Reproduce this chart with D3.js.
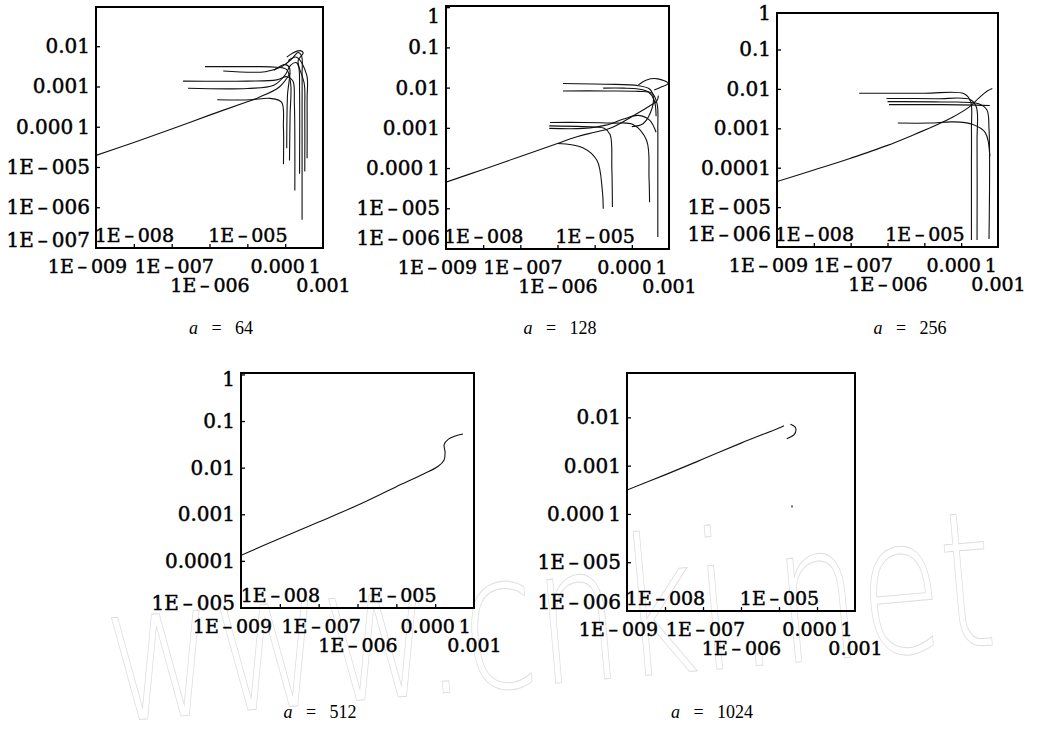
<!DOCTYPE html>
<html>
<head>
<meta charset="utf-8">
<script src="https://cdn.jsdelivr.net/npm/d3@7"></script>
<style>
body { margin: 0; background: #fff; }
svg text { font-family: "DejaVu Serif", "Liberation Serif", serif; }
</style>
</head>
<body>
<script>
// ---- tick values / labels ----
var xTicks = [1e-9, 1e-8, 1e-7, 1e-6, 1e-5, 1e-4, 1e-3];
var xTickText = ["1E\u2009–\u2009009", "1E\u2009–\u2009008", "1E\u2009–\u2009007", "1E\u2009–\u2009006", "1E\u2009–\u2009005", "0.000\u20091", "0.001"];
var xTickRow = [1, 0, 1, 2, 0, 1, 2];   // 0 = inside the frame, 1 = first line below, 2 = second line

var yTicks64 = [1e-2, 1e-3, 1e-4, 1e-5, 1e-6, 1e-7];
var yText64 = ["0.01", "0.001", "0.000\u20091", "1E\u2009–\u2009005", "1E\u2009–\u2009006", "1E\u2009–\u2009007"];
var yTicks128 = [1, 1e-1, 1e-2, 1e-3, 1e-4, 1e-5, 1e-6];
var yText128 = ["1", "0.1", "0.01", "0.001", "0.000\u20091", "1E\u2009–\u2009005", "1E\u2009–\u2009006"];
var yTicks256 = [1, 1e-1, 1e-2, 1e-3, 1e-4, 1e-5, 1e-6];
var yText256 = ["1", "0.1", "0.01", "0.001", "0.0001", "1E\u2009–\u2009005", "1E\u2009–\u2009006"];
var yTicks512 = [1, 1e-1, 1e-2, 1e-3, 1e-4, 1e-5];
var yText512 = ["1", "0.1", "0.01", "0.001", "0.0001", "1E\u2009–\u2009005"];
var yTicks1024 = [1e-2, 1e-3, 1e-4, 1e-5, 1e-6];
var yText1024 = ["0.01", "0.001", "0.000\u20091", "1E\u2009–\u2009005", "1E\u2009–\u2009006"];

// ---- curves, [x, y] ----
// a = 64
var a64_s0 = [[1e-9,2.0e-5],[1e-8,4.2e-5],[1e-7,9.0e-5],[1e-6,2.0e-4],[1e-5,4.3e-4],[2e-5,5.5e-4],[7e-5,1e-3],[1.35e-4,2.2e-3]];
var a64_s1 = [[7.6e-7,3.2e-3],[1e-5,3.2e-3],[6e-5,3.1e-3],[1.1e-4,2.7e-3],[1.4e-4,1.2e-3],[1.35e-4,2e-4],[1.3e-4,1.5e-5]];
var a64_s2 = [[2.3e-6,2.5e-3],[3e-5,2.4e-3],[8e-5,3.2e-3],[1.5e-4,5e-3],[2.2e-4,7.2e-3],[2.7e-4,6e-3],[2.8e-4,2e-3],[2.8e-4,3e-4],[2.8e-4,5e-7]];
var a64_s3 = [[2e-7,1.4e-3],[1e-5,1.4e-3],[6e-5,1.5e-3],[1.1e-4,1.8e-3],[1.6e-4,1.4e-3],[1.75e-4,4e-4],[1.8e-4,2.7e-6]];
var a64_s4 = [[2.7e-7,9.3e-4],[1e-5,9.2e-4],[5e-5,1.1e-3],[1e-4,2e-3],[1.4e-4,3.5e-3],[2e-4,4e-3],[2.3e-4,3e-3],[2.4e-4,8e-4],[2.4e-4,7e-6]];
var a64_s5 = [[1.6e-6,4.8e-4],[1.2e-5,4.8e-4],[4e-5,5.2e-4],[8e-5,4.2e-4],[9e-5,1e-4],[9e-5,1.2e-5]];
var a64_s6 = [[1.1e-4,5.5e-3],[1.6e-4,7e-3],[2.5e-4,8e-3],[3e-4,7e-3],[2.2e-4,4.5e-3],[3.2e-4,1.2e-3],[3.3e-4,3e-4],[3.3e-4,8e-6]];
var a64_s7 = [[5e-5,2.6e-3],[1e-4,3.6e-3],[1.3e-4,3e-3],[1.15e-4,6e-4],[1.1e-4,3e-5]];
var a64_s8 = [[1.2e-4,4.5e-3],[2e-4,5.5e-3],[3.7e-4,2e-3],[3.8e-4,5e-4],[3.8e-4,1.7e-5]];
// a = 128
var a128_s0 = [[1e-9,4.6e-5],[1e-8,9.5e-5],[1e-7,2.0e-4],[1e-6,4.2e-4],[3e-6,6e-4],[1e-5,8e-4],[2.6e-5,1e-3],[1.35e-4,2.3e-3],[3e-4,3.6e-3],[4.7e-4,4.8e-3],[5.2e-4,6.5e-3]];
var a128_s1 = [[1e-6,4.2e-4],[4.8e-6,3.3e-4],[1.15e-5,1.6e-4],[1.6e-5,3e-5],[1.7e-5,1e-5]];
var a128_s2 = [[6e-7,1.15e-3],[5e-6,1.1e-3],[1.8e-5,1e-3],[2.6e-5,7e-4],[2.9e-5,1e-4],[3e-5,1.1e-5]];
var a128_s3 = [[6.3e-7,1.4e-3],[5e-6,1.4e-3],[3e-5,1.35e-3],[1.07e-4,1.25e-3],[2.5e-4,5e-4],[2.9e-4,6e-5],[3e-4,1.45e-5]];
var a128_s4 = [[1.4e-6,8.5e-3],[2e-5,8.5e-3],[1.5e-4,8.3e-3],[3.5e-4,7.5e-3],[4.8e-4,4e-3],[5e-4,1e-3],[5e-4,1e-4],[5e-4,2e-6]];
var a128_s5 = [[1.4e-6,1.3e-2],[2e-5,1.25e-2],[1.5e-4,1.15e-2],[3e-4,9.5e-3],[3.8e-4,6e-3],[3.2e-4,2.5e-3],[2e-4,1.3e-3],[1e-4,1.1e-3]];
var a128_s6 = [[1.5e-4,1.2e-2],[2.5e-4,1.6e-2],[5e-4,1.7e-2],[9.5e-4,1.3e-2],[6e-4,1.05e-2],[4e-4,9e-3]];
var a128_s7 = [[6e-7,1e-3],[5e-6,1e-3],[2e-5,1.2e-3],[6e-5,1.7e-3],[1.5e-4,2.1e-3],[3e-4,1.6e-3],[4.5e-4,8e-4]];
var a128_s8 = [[1.7e-5,1e-2],[6e-5,1e-2],[1.5e-4,9.5e-3],[2.8e-4,8e-3],[4e-4,5e-3],[4.5e-4,2e-3]];
// a = 256
var a256_s0 = [[1e-9,4.6e-5],[1e-8,9e-5],[1e-7,1.8e-4],[1e-6,3.8e-4],[5e-6,7e-4],[1.4e-5,1.05e-3]];
var a256_s1 = [[1.7e-7,8e-3],[1e-5,8e-3],[1.2e-4,7.8e-3],[1.8e-4,5e-3],[1.9e-4,1e-3],[1.9e-4,1e-4],[1.9e-4,1.5e-6]];
var a256_s2 = [[9.4e-7,5.9e-3],[2e-5,5.8e-3],[1.8e-4,5.5e-3],[2.6e-4,3.5e-3],[2.7e-4,5e-4],[2.7e-4,1.5e-6]];
var a256_s3 = [[1e-6,4.9e-3],[3e-5,4.8e-3],[3e-4,4.3e-3],[5e-4,3e-3],[5.7e-4,1e-3],[5.7e-4,1.6e-6]];
var a256_s4 = [[1.1e-6,4.1e-3],[3e-5,4.1e-3],[2.5e-4,4e-3],[6e-4,3.9e-3]];
var a256_s5 = [[1.9e-6,1.4e-3],[1.4e-5,1.4e-3],[6e-5,1.5e-3],[2e-4,1.3e-3],[4.5e-4,8e-4],[6e-4,2e-4]];
var a256_s6 = [[1.4e-5,1.05e-3],[6e-5,2e-3],[1.6e-4,3.5e-3],[3e-4,6e-3],[5e-4,9e-3],[7e-4,1.05e-2]];
// a = 512
var a512_s0 = [[1e-9,1.35e-4],[1e-8,3.1e-4],[1e-7,7e-4],[1e-6,1.6e-3],[1e-5,4e-3],[5e-5,7.5e-3],[1.2e-4,1.1e-2],[1.7e-4,1.5e-2],[1.8e-4,2.2e-2],[1.7e-4,3.2e-2],[2.2e-4,4.2e-2],[3.3e-4,4.9e-2],[5.2e-4,5.4e-2]];
// a = 1024
var a1024_s0 = [[1e-9,3.2e-4],[1e-8,6.6e-4],[1e-7,1.4e-3],[1e-6,3e-3],[1e-5,6.2e-3],[1.35e-5,6.9e-3]];
var a1024_s1 = [[2e-5,7.4e-3],[2.6e-5,6.6e-3],[2.8e-5,5.7e-3],[2.5e-5,4.5e-3],[1.6e-5,3.7e-3]];
var a1024_s2 = [[2.2e-5,1.55e-4],[2.2e-5,1.4e-4]];

// ---- layout of the five frames (pixels) ----
// pad = [how far the top label sits below the frame top, how far the bottom label sits above the frame bottom]
var panels = [
  { a: "64",   box: [96, 7, 323, 248],    pad: [9, 7],  yDomain: [1e-7, 0.097], yTicks: yTicks64,   yText: yText64,   series: [a64_s0, a64_s1, a64_s2, a64_s3, a64_s4, a64_s5, a64_s6, a64_s7, a64_s8], cap: [221, 334] },
  { a: "128",  box: [446, 6, 669, 249],   pad: [11, 10], yDomain: [1e-6, 1.1],  yTicks: yTicks128,  yText: yText128,  series: [a128_s0, a128_s1, a128_s2, a128_s3, a128_s4, a128_s5, a128_s6, a128_s7, a128_s8], cap: [560, 334] },
  { a: "256",  box: [777, 13, 998, 247],  pad: [1, 12], yDomain: [1e-6, 0.87],  yTicks: yTicks256,  yText: yText256,  series: [a256_s0, a256_s1, a256_s2, a256_s3, a256_s4, a256_s5, a256_s6], cap: [910, 334] },
  { a: "512",  box: [241, 373, 474, 608], pad: [7, 4],  yDomain: [1e-5, 1.1],   yTicks: yTicks512,  yText: yText512,  series: [a512_s0], cap: [320, 718] },
  { a: "1024", box: [627, 373, 855, 611], pad: [9, 8],  yDomain: [1e-6, 0.085], yTicks: yTicks1024, yText: yText1024, series: [a1024_s0, a1024_s1, a1024_s2], cap: [712, 718] }
];

var svg = d3.select("body").append("svg")
  .attr("width", 1038)
  .attr("height", 738);

// faint scan watermark
svg.append("text")
  .attr("x", 112).attr("y", 722)
  .attr("transform", "rotate(-5 112 722)")
  .attr("textLength", 890)
  .attr("lengthAdjust", "spacingAndGlyphs")
  .style("font-family", "DejaVu Sans")
  .style("font-weight", "200")
  .style("font-size", "190px")
  .style("fill", "none")
  .style("stroke", "#dedede")
  .style("stroke-width", 1)
  .text("www.cnki.net");

panels.forEach(function (p, k) {
  var L = p.box[0], T = p.box[1], R = p.box[2], B = p.box[3];
  var x = d3.scaleLog().domain([1e-9, 1e-3]).range([L, R]);
  var y = d3.scaleLog().domain(p.yDomain).range([B, T]);
  var labelY = function (d) { return Math.max(T + p.pad[0], Math.min(B - p.pad[1], y(d))); };

  var g = svg.append("g");

  g.append("clipPath").attr("id", "clip" + k)
    .append("rect").attr("x", L).attr("y", T).attr("width", R - L).attr("height", B - T);

  var line = d3.line()
    .x(function (d) { return x(d[0]); })
    .y(function (d) { return y(d[1]); })
    .curve(d3.curveCatmullRom.alpha(0.5));

  g.append("g").attr("clip-path", "url(#clip" + k + ")")
    .selectAll("path").data(p.series).enter().append("path")
    .attr("d", line)
    .attr("fill", "none")
    .attr("stroke", "#111")
    .attr("stroke-width", 1.1);

  // left axis, ticks pointing inward
  var ya = g.append("g").attr("transform", "translate(" + L + ",0)")
    .call(d3.axisLeft(y).tickValues(p.yTicks).tickSize(0).tickPadding(6)
      .tickFormat(function (d, i) { return p.yText[i]; }));
  ya.select(".domain").remove();
  ya.selectAll(".tick").attr("transform", function (d) { return "translate(0," + labelY(d) + ")"; });
  ya.selectAll(".tick").append("line")
    .attr("x2", function (d) { return (d > p.yDomain[0] * 1.001 && d < p.yDomain[1]) ? 4 : 0; })
    .attr("transform", function (d) { return "translate(0," + (y(d) - labelY(d)) + ")"; })
    .attr("stroke", "#000").attr("stroke-width", 1.3);
  ya.selectAll("text")
    .style("font-size", "20px")
    .attr("fill", "#000")
    .attr("stroke", "#000")
    .attr("stroke-width", 0.45);

  // bottom axis with staggered labels
  var xa = g.append("g").attr("transform", "translate(0," + B + ")")
    .call(d3.axisBottom(x).tickValues(xTicks).tickSize(0)
      .tickFormat(function (d, i) { return xTickText[i]; }));
  xa.select(".domain").remove();
  xa.selectAll(".tick").append("line")
    .attr("y2", function (d, i) { return i === 0 || i === xTicks.length - 1 ? 0 : -4; })
    .attr("stroke", "#000").attr("stroke-width", 1.3);
  xa.selectAll("text")
    .attr("dy", "0.36em")
    .attr("x", function (d, i) { return i === 0 ? -9 : (i === 2 ? 2 : 0); })
    .attr("y", function (d, i) { return [-13, 18, 37][xTickRow[i]]; })
    .style("font-size", "19px")
    .attr("fill", "#000")
    .attr("stroke", "#000")
    .attr("stroke-width", 0.45);

  // frame
  g.append("rect")
    .attr("x", L).attr("y", T).attr("width", R - L).attr("height", B - T)
    .attr("fill", "none").attr("stroke", "#000").attr("stroke-width", 2);

  // caption  a = ...
  var cap = g.append("text")
    .attr("x", p.cap[0]).attr("y", p.cap[1])
    .attr("text-anchor", "middle")
    .style("font-family", "'Liberation Serif', 'Times New Roman', serif")
    .style("font-size", "18px")
    .style("white-space", "pre");
  cap.append("tspan").style("font-style", "italic").text("a");
  cap.append("tspan").text("   =   " + p.a);
});
</script>
</body>
</html>
